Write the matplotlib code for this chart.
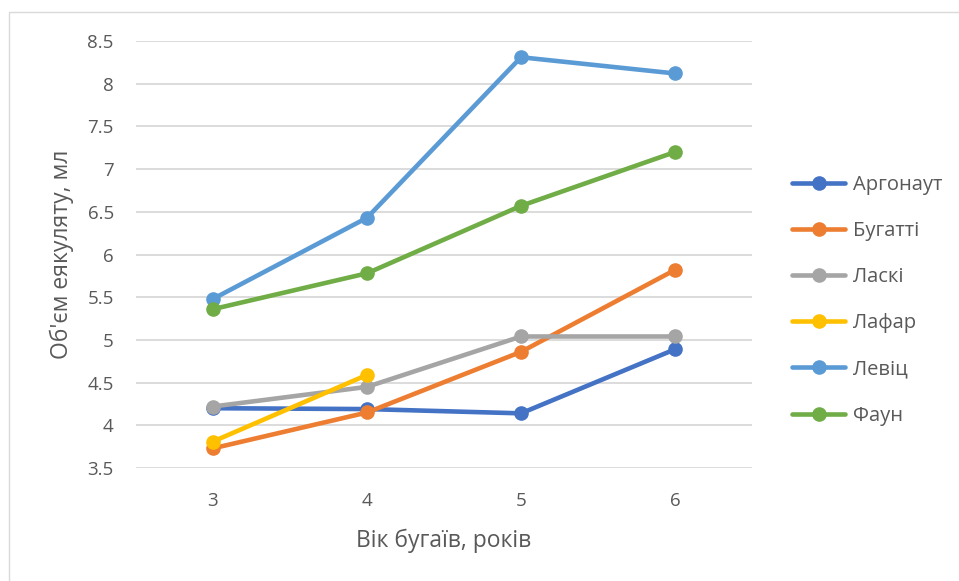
import matplotlib
matplotlib.use('Agg')
import matplotlib.pyplot as plt
from matplotlib.patches import Rectangle

plt.rcParams['font.family'] = ['Open Sans', 'Noto Sans', 'DejaVu Sans']

# вік бугаїв, років
age = [3, 4, 5, 6]

# об'єм еякуляту по породах, мл
argonaut = [4.20, 4.19, 4.14, 4.89]
bugatti = [3.73, 4.15, 4.86, 5.82]
laski = [4.22, 4.45, 5.04, 5.04]
lafar = [3.81, 4.59]
levits = [5.48, 6.43, 8.31, 8.12]
faun = [5.36, 5.78, 6.57, 7.20]

series = [
    ('Аргонаут', age, argonaut, '#4472C4'),
    ('Бугатті', age, bugatti, '#ED7D31'),
    ('Ласкі', age, laski, '#A5A5A5'),
    ('Лафар', age[:2], lafar, '#FFC000'),
    ('Левіц', age, levits, '#5B9BD5'),
    ('Фаун', age, faun, '#70AD47'),
]

fig = plt.figure(figsize=(9.59, 5.81), dpi=100)
ax = fig.add_axes([0.1418, 0.1945, 0.6424, 0.7349])

# chart border
fig.patches.append(Rectangle((9 / 959, -0.1), 1.2, 1 - 12 / 581 + 0.1,
                             transform=fig.transFigure, fill=False,
                             edgecolor='#D9D9D9', linewidth=1.0))

for name, x, y, c in series:
    ax.plot(x, y, color=c, linewidth=3.3, marker='o', markersize=9.5,
            label=name, solid_capstyle='round')

ax.set_xlim(2.5, 6.5)
ax.set_ylim(3.5, 8.5)
ax.set_xticks(age)
ax.set_yticks([3.5, 4, 4.5, 5, 5.5, 6, 6.5, 7, 7.5, 8, 8.5])
ax.set_yticklabels(['3.5', '4', '4.5', '5', '5.5', '6', '6.5', '7', '7.5', '8', '8.5'])
ax.grid(axis='y', color='#D9D9D9', linewidth=1.3)
ax.set_axisbelow(True)
for s in ax.spines.values():
    s.set_visible(False)
ax.tick_params(length=0, labelsize=13.5, labelcolor='#595959')
ax.tick_params(axis='y', pad=16)
ax.tick_params(axis='x', pad=17)

ax.set_xlabel('Вік бугаїв, років', fontsize=16.5, color='#595959', labelpad=14)
ax.set_ylabel("Об'єм еякуляту, мл", fontsize=16.5, color='#595959', labelpad=10)

ax.legend(loc='center left', bbox_to_anchor=(1.0, 0.393), frameon=False,
          fontsize=14.5, labelcolor='#595959', handlelength=2.6,
          labelspacing=1.3, handletextpad=0.4, borderaxespad=1.6)

fig.savefig('out.png', dpi=100)
